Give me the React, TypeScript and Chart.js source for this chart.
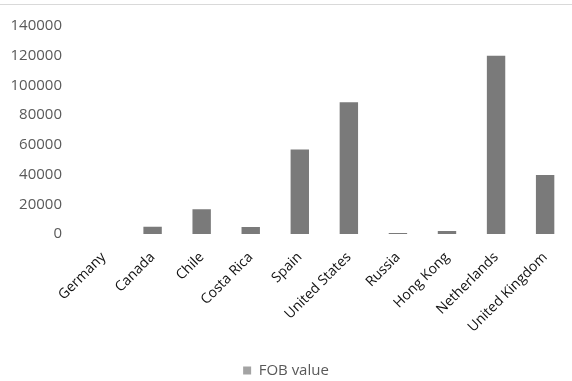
import React, { useEffect, useRef } from "react";
import { Chart, registerables } from "chart.js";

Chart.register(...registerables);

const categories = [
  "Germany",
  "Canada",
  "Chile",
  "Costa Rica",
  "Spain",
  "United States",
  "Russia",
  "Hong Kong",
  "Netherlands",
  "United Kingdom",
];
const fobValues = [0, 4800, 16700, 4700, 56800, 88700, 700, 2000, 120000, 39700];
const seriesLabel = "FOB value";
const yMax = 140000;
const yStep = 20000;

export default function App() {
  const ref = useRef<HTMLCanvasElement | null>(null);

  useEffect(() => {
    if (!ref.current) return;
    const chart = new Chart(ref.current, {
      type: "bar",
      data: {
        labels: categories,
        datasets: [
          {
            label: seriesLabel,
            data: fobValues,
            backgroundColor: "#7a7a7a",
            borderWidth: 0,
            categoryPercentage: 1,
            barPercentage: 0.375,
          },
        ],
      },
      options: {
        animation: false,
        responsive: false,
        maintainAspectRatio: false,
        layout: { padding: { top: 19, right: 0, bottom: -7, left: 0 } },
        plugins: {
          tooltip: { enabled: false },
          legend: {
            position: "bottom",
            labels: {
              font: { family: "Open Sans", size: 15 },
              color: "#595959",
              boxWidth: 8,
              boxHeight: 8,
              padding: 3,
              generateLabels: () => [
                {
                  text: seriesLabel,
                  fillStyle: "#a3a3a3",
                  strokeStyle: "#a3a3a3",
                  lineWidth: 0,
                  hidden: false,
                  datasetIndex: 0,
                  fontColor: "#595959",
                },
              ],
            },
          },
        },
        scales: {
          x: {
            grid: { display: false, drawTicks: false },
            border: { display: false },
            ticks: {
              autoSkip: false,
              maxRotation: 45,
              minRotation: 45,
              padding: 15,
              color: "#111111",
              font: { family: "Open Sans", size: 14 },
            },
            afterFit: (s: any) => {
              s.height = 126;
            },
          },
          y: {
            min: 0,
            max: yMax,
            grid: { display: false, drawTicks: false },
            border: { display: false },
            ticks: {
              stepSize: yStep,
              padding: 17,
              color: "#595959",
              font: { family: "Open Sans", size: 15 },
              callback: (v: any) => String(v),
            },
            afterFit: (s: any) => {
              s.width = 79;
            },
          },
        },
      },
    });
    return () => chart.destroy();
  }, []);

  return (
    <div style={{ position: "fixed", left: 0, top: 0, width: 572, height: 381, background: "#fff" }}>
      <div style={{ position: "absolute", left: 0, top: 4, width: 572, height: 1, background: "#d9d9d9" }} />
      <canvas ref={ref} width={572} height={381} style={{ position: "absolute", left: 0, top: 0 }} />
    </div>
  );
}
